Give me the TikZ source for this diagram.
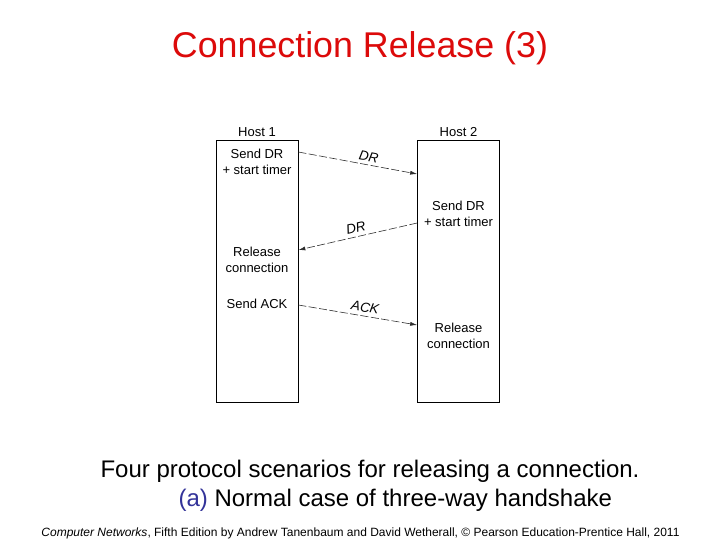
\documentclass[tikz,border=0pt]{standalone}
\usepackage{fontspec}
\setmainfont{Liberation Sans}
\usetikzlibrary{positioning, arrows.meta}

\definecolor{titlered}{RGB}{220,10,10}
\definecolor{capblue}{RGB}{51,51,153}
\definecolor{msggray}{RGB}{45,45,45}

\begin{document}
\begin{tikzpicture}[
    x=1pt, y=-1pt,
    host/.style={
      rectangle, draw=black, line width=0.7pt,
      minimum width=82pt, minimum height=262pt, inner sep=0pt
    },
    hostlabel/.style={font=\fontsize{13}{15}\selectfont, inner sep=1pt},
    act/.style={align=center, font=\fontsize{13}{16}\selectfont, inner sep=0pt},
    msg/.style={
      draw=msggray, line width=0.6pt, dash pattern=on 8pt off 2.5pt,
      -{Latex[length=7pt, width=4pt]}
    },
    msglabel/.style={font=\fontsize{13.5}{15}\selectfont\itshape, inner sep=3.5pt}
  ]
    \useasboundingbox (0,0) rectangle (720,540);

    % title
    \node[text=titlered, font=\fontsize{35.8}{40}\selectfont, anchor=base] (title)
      at (360,58) {Connection Release (3)};

    % the two hosts
    \node[host] (h1) at (257,271) {};
    \node[host] (h2) at (458.5,271) {};
    \node[hostlabel, above=2pt of h1] (h1lab) {Host 1};
    \node[hostlabel, above=2pt of h2] (h2lab) {Host 2};

    % what each host does
    \node[act] (snd1) at (h1.north |- 0,162) {Send DR\\+ start timer};
    \node[act] (rel1) at (h1.north |- 0,259.5) {Release\\connection};
    \node[act] (ack1) at (h1.north |- 0,304) {Send ACK};
    \node[act] (snd2) at (h2.north |- 0,214) {Send DR\\+ start timer};
    \node[act] (rel2) at (h2.north |- 0,335.5) {Release\\connection};

    % message ends
    \coordinate (dr1a) at (h1.east |- 0,152);
    \coordinate (dr1b) at (h2.west |- 0,174);
    \coordinate (dr2a) at (h2.west |- 0,223);
    \coordinate (dr2b) at (h1.east |- 0,250);
    \coordinate (acka) at (h1.east |- 0,305);
    \coordinate (ackb) at (h2.west |- 0,325);

    \draw[msg] (dr1a) -- node[msglabel, pos=0.58, above, sloped] (dr1lab) {DR} (dr1b);
    \draw[msg] (dr2a) -- node[msglabel, pos=0.5, above, sloped] (dr2lab) {DR} (dr2b);
    \draw[msg] (acka) -- node[msglabel, pos=0.55, above, sloped] (acklab) {ACK} (ackb);

    % caption
    \node[font=\fontsize{24}{29}\selectfont, anchor=base] (cap1) at (370,477)
      {Four protocol scenarios for releasing a connection.};
    \node[font=\fontsize{24}{29}\selectfont, anchor=base west] (cap2) at (175,506)
      {\textcolor{capblue}{(a)} Normal case of three-way handshake};

    % footer
    \node[font=\fontsize{12}{13}\selectfont, anchor=base] (foot) at (360.5,536)
      {\textit{Computer Networks}, Fifth Edition by Andrew Tanenbaum and David Wetherall, © Pearson Education-Prentice Hall, 2011};
  \end{tikzpicture}
\end{document}
